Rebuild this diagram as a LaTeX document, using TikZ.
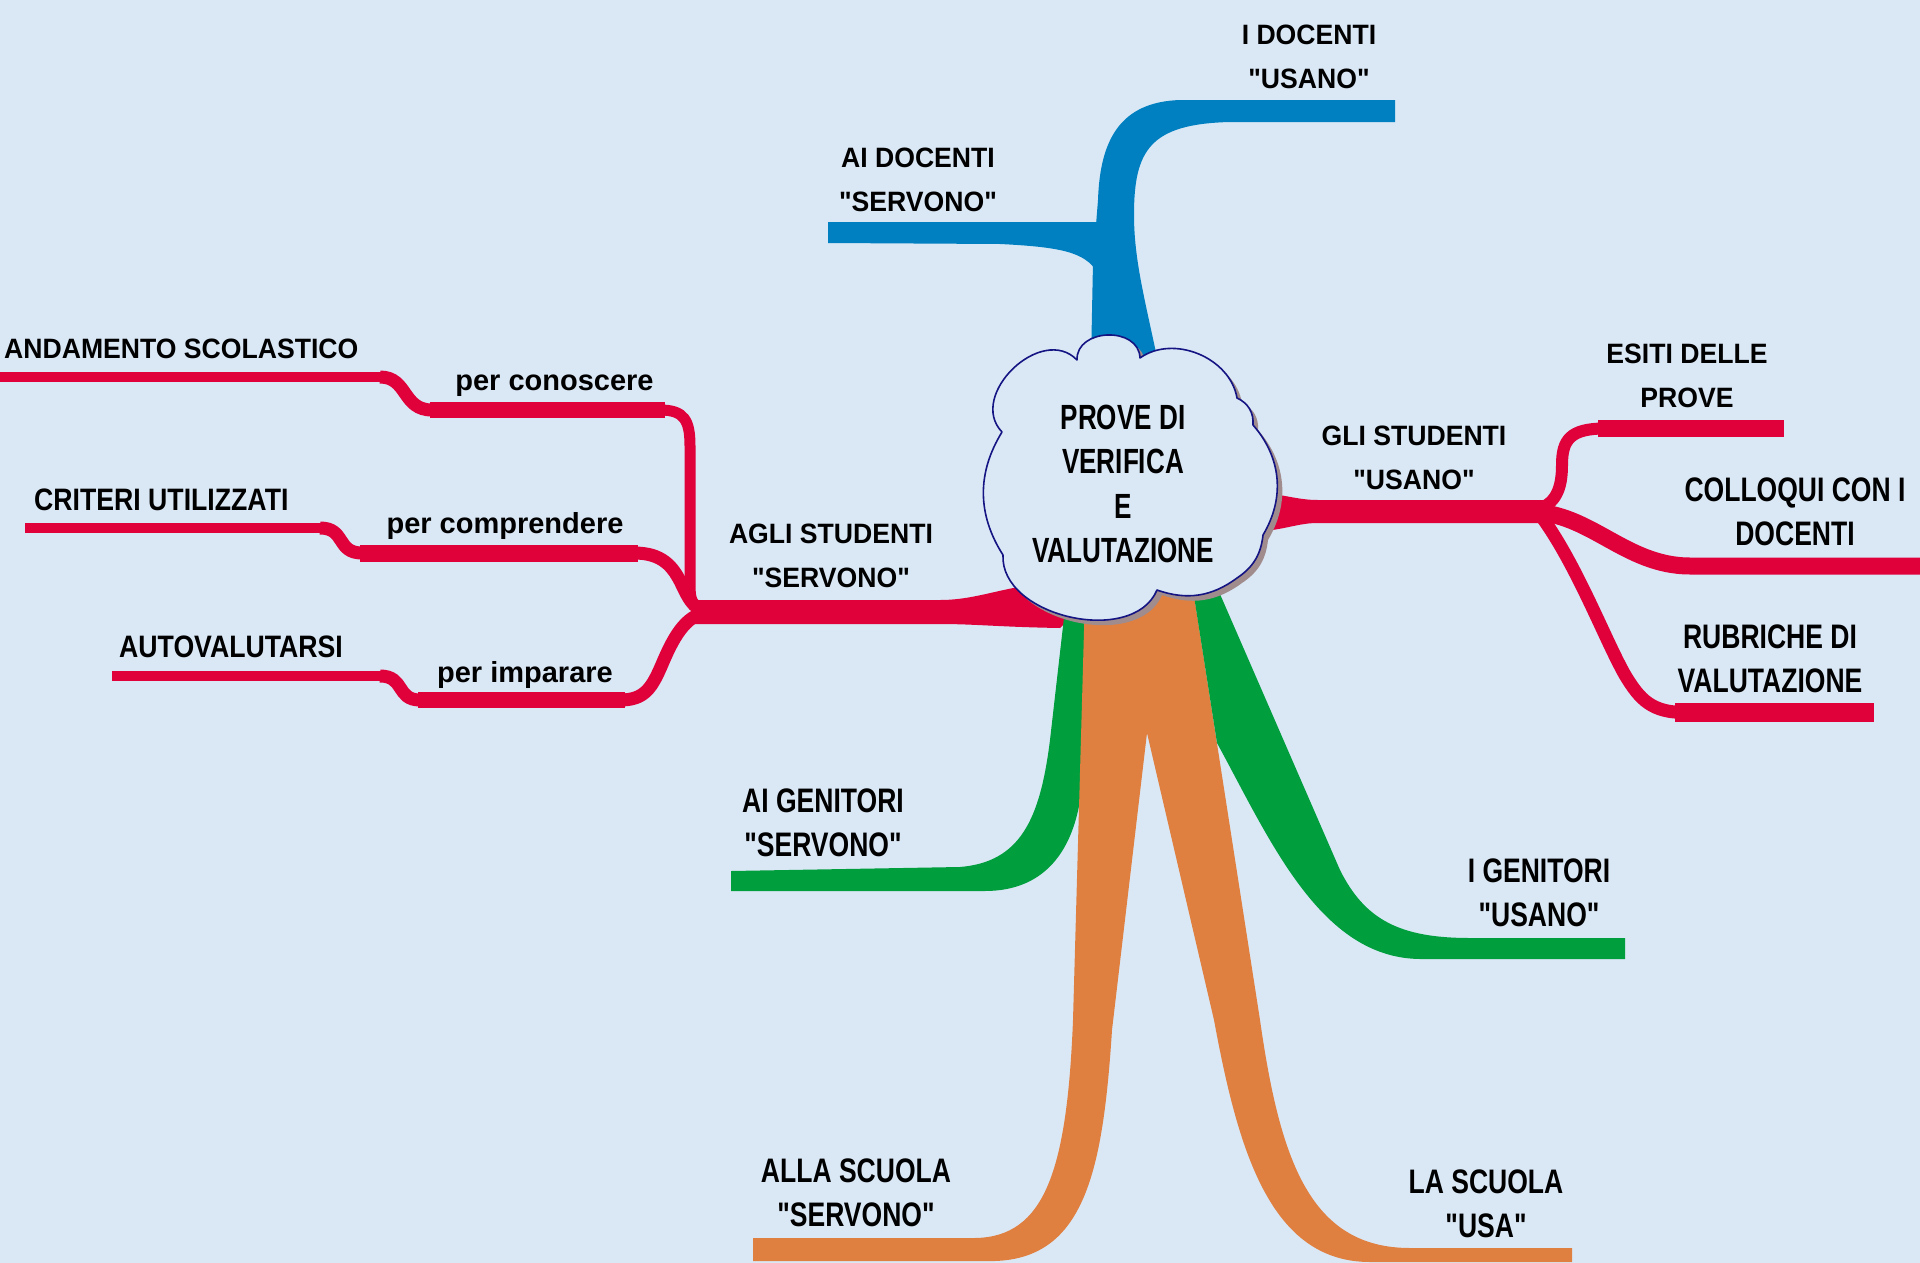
\documentclass[tikz,border=0pt]{standalone}
\usepackage{fontspec}
\setmainfont{Liberation Sans}
\newfontfamily\fA{Liberation Sans}[FakeStretch=0.95]
\newfontfamily\fB{Liberation Sans}[FakeStretch=0.86]
\newfontfamily\fC{Liberation Sans}[FakeStretch=0.78]
\newfontfamily\fD{Liberation Sans}[FakeStretch=0.745]
\newfontfamily\fL{Liberation Sans}
\definecolor{bg}{RGB}{218,232,246}
\definecolor{mred}{RGB}{224,0,58}
\definecolor{mblue}{RGB}{0,128,192}
\definecolor{mgreen}{RGB}{0,158,61}
\definecolor{morange}{RGB}{224,128,64}
\definecolor{cloudline}{RGB}{20,20,130}
\definecolor{cshadow}{RGB}{160,140,140}
\begin{document}
\begin{tikzpicture}[x=1pt,y=-1pt,
  redln/.style={draw=mred, line width=#1},
  tA/.style={font={\fA\bfseries\fontsize{28}{44}\selectfont}, align=center, inner sep=0pt, text=black},
  tB/.style={font={\fB\bfseries\fontsize{31}{44}\selectfont}, align=center, inner sep=0pt, text=black},
  tC/.style={font={\fC\bfseries\fontsize{34}{44}\selectfont}, align=center, inner sep=0pt, text=black},
  tD/.style={font={\fD\bfseries\fontsize{35}{44.3}\selectfont}, align=center, inner sep=0pt, text=black},
  tL/.style={font={\fL\bfseries\fontsize{29}{44}\selectfont}, inner sep=0pt, text=black},
  cloudfill/.style={fill=bg, draw=cloudline, line width=1.6pt, line join=round}
]
\useasboundingbox (0,0) rectangle (1920,1263);
\fill[bg] (0,0) rectangle (1920,1263);

% ---------- blue ----------
\fill[mblue] (1395,100) -- (1180,100) .. controls (1120,102) and (1100,140) .. (1098,200)
  -- (1093,262) -- (1091,362) -- (1158,362) .. controls (1145,300) and (1134,260) .. (1134,215)
  .. controls (1134,150) and (1150,124) .. (1230,122) -- (1395,122) -- cycle;
\fill[mblue] (828,222) -- (1097,222) -- (1097,272) .. controls (1085,252) and (1060,247) .. (1000,244)
  -- (828,243) -- cycle;

% ---------- red left ----------
\fill[mred] (695,600) -- (940,600) .. controls (975,600) and (1000,588) .. (1040,584)
  -- (1090,600) -- (1060,628) .. controls (1000,627) and (975,624) .. (940,624) -- (695,624) -- cycle;
\draw[redln=10] (0,377) -- (382,377);
\draw[redln=13] (380,377) .. controls (408,377) and (402,410) .. (432,410);
\draw[redln=16] (430,410) -- (665,410);
\draw[redln=11] (660,410) .. controls (684,410) and (690,420) .. (690,446) -- (690,585)
  .. controls (690,603) and (694,612) .. (712,612);
\draw[redln=10] (25,528) -- (322,528);
\draw[redln=13] (320,528) .. controls (346,528) and (336,553) .. (362,553);
\draw[redln=17] (360,553) -- (638,553);
\draw[redln=13] (634,553) .. controls (662,553) and (673,566) .. (682,585)
  .. controls (690,602) and (696,612) .. (712,612);
\draw[redln=10] (112,676) -- (382,676);
\draw[redln=13] (380,676) .. controls (405,676) and (396,700) .. (420,700);
\draw[redln=16] (418,700) -- (625,700);
\draw[redln=13] (620,700) .. controls (645,700) and (652,688) .. (663,662)
  .. controls (675,634) and (688,612) .. (712,612);

% ---------- red right ----------
\fill[mred] (1250,493) -- (1265,493) .. controls (1290,496) and (1300,500) .. (1318,500) -- (1545,500)
  -- (1545,523) -- (1318,523) .. controls (1300,523) and (1290,528) .. (1265,531) -- (1250,531) -- cycle;
\draw[redln=12] (1535,510) .. controls (1555,505) and (1562,490) .. (1562,465)
  .. controls (1562,440) and (1570,428.5) .. (1605,428.5);
\draw[redln=17] (1598,428.5) -- (1784,428.5);
\draw[redln=17] (1530,512) .. controls (1590,512) and (1625,566) .. (1690,566) -- (1920,566);
\draw[redln=13] (1538,512) .. controls (1575,560) and (1605,640) .. (1625,675)
  .. controls (1640,700) and (1652,712.5) .. (1685,712.5);
\draw[redln=19] (1675,712.5) -- (1874,712.5);

% ---------- green left ----------
\fill[mgreen] (731,871) -- (960,867) .. controls (1020,862) and (1040,820) .. (1050,740)
  -- (1066,600) -- (1086,600) -- (1083,770) .. controls (1080,850) and (1045,891) .. (985,891)
  -- (731,891) -- cycle;

% ---------- orange ----------
\fill[morange] (1086,560) -- (1073,1020) .. controls (1067,1170) and (1045,1237) .. (975,1238)
  -- (753,1238) -- (753,1261) -- (995,1261) .. controls (1085,1258) and (1103,1170) .. (1112,1030)
  -- (1147,733) -- (1214,1020) .. controls (1238,1150) and (1270,1262) .. (1370,1262)
  -- (1572,1262) -- (1572,1248) -- (1410,1248) .. controls (1310,1248) and (1280,1160) .. (1260,1020)
  -- (1190,570) -- cycle;

% ---------- green right ----------
\fill[mgreen] (1186,545) -- (1217,743) .. controls (1270,840) and (1320,958) .. (1420,959)
  -- (1625,959) -- (1625,938) -- (1470,938) .. controls (1400,938) and (1365,920) .. (1340,870)
  -- (1203,555) -- cycle;

% ---------- cloud ----------
\begin{scope}[shift={(5,5)}]
\fill[cshadow] (1002,432) to[bend left=90, looseness=1.25] (1077,360)
  to[bend left=90, looseness=1.3] (1140,358) to[bend left=58] (1237,398)
  to[bend left=35] (1253,425) to[bend left=36] (1263,535) to[bend left=25] (1237,578)
  to[bend left=28] (1157,590) to[bend left=80] (1003,555) to[bend left=32] (1002,432) -- cycle;
\end{scope}
\path[cloudfill] (1002,432) to[bend left=90, looseness=1.25] (1077,360)
  to[bend left=90, looseness=1.3] (1140,358) to[bend left=58] (1237,398)
  to[bend left=35] (1253,425) to[bend left=36] (1263,535) to[bend left=25] (1237,578)
  to[bend left=28] (1157,590) to[bend left=80] (1003,555) to[bend left=32] (1002,432) -- cycle;

% ---------- texts ----------
\node[tD] (center) at (1123,484) {PROVE DI\\VERIFICA\\E\\VALUTAZIONE};
\node[tA] (idoc) at (1309,56.5) {I DOCENTI\\"USANO"};
\node[tA] (aidoc) at (918,180) {AI DOCENTI\\"SERVONO"};
\node[tA, anchor=base west] (andam) at (4,358) {ANDAMENTO SCOLASTICO};
\node[tL, anchor=base] (conosc) at (554.5,390) {per conoscere};
\node[tB, anchor=base west] (crit) at (34,510) {CRITERI UTILIZZATI};
\node[tL, anchor=base] (compr) at (505,533) {per comprendere};
\node[tB, anchor=base west] (autov) at (119,657) {AUTOVALUTARSI};
\node[tL, anchor=base] (impar) at (525,682) {per imparare};
\node[tA] (aglistud) at (831,556) {AGLI STUDENTI\\"SERVONO"};
\node[tA] (glistud) at (1414,458) {GLI STUDENTI\\"USANO"};
\node[tA] (esiti) at (1687,376) {ESITI DELLE\\PROVE};
\node[tC] (colloqui) at (1795,512) {COLLOQUI CON I\\DOCENTI};
\node[tC] (rubriche) at (1770,659) {RUBRICHE DI\\VALUTAZIONE};
\node[tC] (aigen) at (823,823) {AI GENITORI\\"SERVONO"};
\node[tC] (igen) at (1539,893) {I GENITORI\\"USANO"};
\node[tC] (alla) at (856,1193) {ALLA SCUOLA\\"SERVONO"};
\node[tC] (lasc) at (1486,1204) {LA SCUOLA\\"USA"};
\end{tikzpicture}
\end{document}
